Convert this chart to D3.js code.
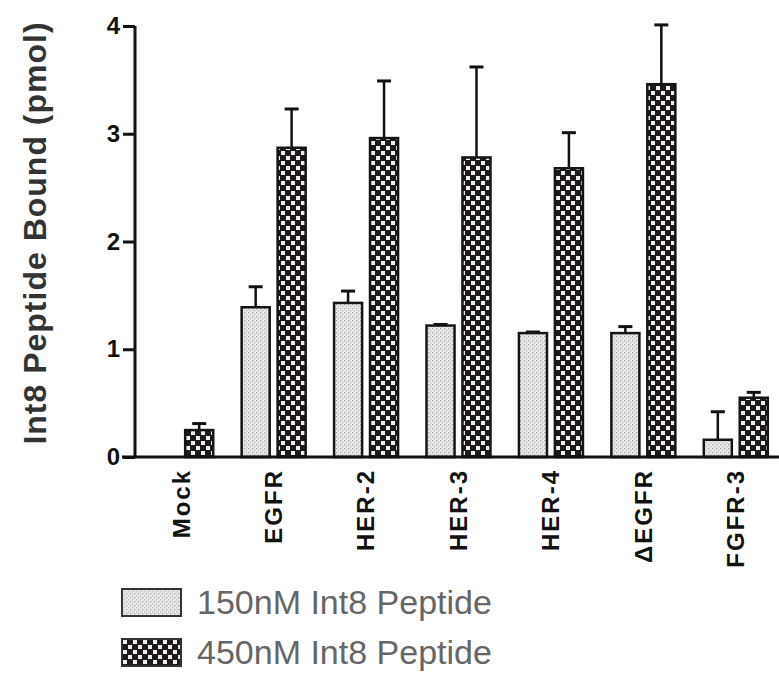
<!DOCTYPE html>
<html>
<head>
<meta charset="utf-8">
<script src="https://cdn.jsdelivr.net/npm/d3@7"></script>
<style>
  body { margin: 0; background: #fff; }
  svg { display: block; }
</style>
</head>
<body>
<div class="chart"></div>
<script>
// data
const categories = ['Mock', 'EGFR', 'HER-2', 'HER-3', 'HER-4', '\u0394EGFR', 'FGFR-3'];
const series = ['150nM Int8 Peptide', '450nM Int8 Peptide'];
const low = [0, 1.39, 1.43, 1.22, 1.15, 1.15, 0.16];
const lowErr = [0, 0.19, 0.11, 0.01, 0.01, 0.06, 0.26];
const high = [0.25, 2.87, 2.96, 2.78, 2.68, 3.46, 0.55];
const highErr = [0.06, 0.36, 0.53, 0.84, 0.33, 0.55, 0.05];
const yTicks = [0, 1, 2, 3, 4];

function displayChart() {
  const w = 779;
  const h = 676;

  const svg = d3.select('.chart')
    .append('svg')
    .attr('width', w)
    .attr('height', h);

  // fill patterns
  const defs = svg.append('defs');
  const stipple = defs.append('pattern')
    .attr('id', 'stipple')
    .attr('patternUnits', 'userSpaceOnUse')
    .attr('width', 4)
    .attr('height', 4);
  stipple.append('rect').attr('width', 4).attr('height', 4).attr('fill', '#e8e8e8');
  stipple.append('rect').attr('x', 0).attr('y', 0).attr('width', 1.3).attr('height', 1.3).attr('fill', '#a8a8a8');
  stipple.append('rect').attr('x', 2).attr('y', 2).attr('width', 1.3).attr('height', 1.3).attr('fill', '#bdbdbd');

  const checker = defs.append('pattern')
    .attr('id', 'checker')
    .attr('patternUnits', 'userSpaceOnUse')
    .attr('width', 10)
    .attr('height', 10);
  checker.append('rect').attr('width', 10).attr('height', 10).attr('fill', '#1e1a1c');
  checker.append('rect').attr('x', 1).attr('y', 1).attr('width', 4).attr('height', 4).attr('fill', '#eee');
  checker.append('rect').attr('x', 6).attr('y', 6).attr('width', 4).attr('height', 4).attr('fill', '#eee');

  const fills = ['url(#stipple)', 'url(#checker)'];

  const xScale = d3.scaleBand()
    .domain(categories)
    .range([135, 782]);
  const xInner = d3.scaleBand()
    .domain(series)
    .range([xScale.bandwidth() / 2 - 32, xScale.bandwidth() / 2 + 32])
    .paddingInner(0.22);
  const yScale = d3.scaleLinear()
    .domain([0, 4])
    .range([457, 26]);

  const rows = [];
  categories.forEach((c, i) => {
    rows.push({ cat: c, s: series[0], v: low[i], e: lowErr[i] });
    rows.push({ cat: c, s: series[1], v: high[i], e: highErr[i] });
  });
  const bars = rows.filter(d => d.v > 0);

  // error bars (upper only)
  const err = svg.append('g').attr('class', 'errors');
  err.selectAll('line.stem')
    .data(bars.filter(d => d.e > 0))
    .enter()
    .append('line')
    .attr('x1', d => xScale(d.cat) + xInner(d.s) + xInner.bandwidth() / 2)
    .attr('x2', d => xScale(d.cat) + xInner(d.s) + xInner.bandwidth() / 2)
    .attr('y1', d => yScale(d.v))
    .attr('y2', d => yScale(d.v + d.e))
    .attr('stroke', '#111')
    .attr('stroke-width', 2.5);
  err.selectAll('line.cap')
    .data(bars.filter(d => d.e > 0))
    .enter()
    .append('line')
    .attr('x1', d => xScale(d.cat) + xInner(d.s) + xInner.bandwidth() / 2 - 7)
    .attr('x2', d => xScale(d.cat) + xInner(d.s) + xInner.bandwidth() / 2 + 7)
    .attr('y1', d => yScale(d.v + d.e))
    .attr('y2', d => yScale(d.v + d.e))
    .attr('stroke', '#111')
    .attr('stroke-width', 3);

  svg.append('g')
    .selectAll('rect')
    .data(bars)
    .enter()
    .append('rect')
    .attr('class', 'bar')
    .attr('x', d => xScale(d.cat) + xInner(d.s))
    .attr('y', d => yScale(d.v))
    .attr('width', xInner.bandwidth())
    .attr('height', d => yScale(0) - yScale(d.v))
    .attr('fill', d => fills[series.indexOf(d.s)])
    .attr('stroke', '#151515')
    .attr('stroke-width', 2.5);

  // y axis
  const yAxis = svg.append('g')
    .attr('class', 'y-axis')
    .attr('transform', 'translate(135, 0)')
    .call(d3.axisLeft(yScale).tickValues(yTicks).tickFormat(d3.format('d')).tickSize(12).tickPadding(3));
  yAxis.select('.domain').attr('stroke', '#111').attr('stroke-width', 3)
    .attr('d', `M0,${yScale(4)}V${yScale(0)}`);
  yAxis.selectAll('.tick line').attr('stroke', '#111').attr('stroke-width', 3);
  yAxis.selectAll('.tick text')
    .attr('fill', '#111')
    .style('font-family', 'Liberation Sans, Arial, sans-serif')
    .style('font-weight', 'bold')
    .style('font-size', '24px');

  // x axis
  const xAxis = svg.append('g')
    .attr('class', 'x-axis')
    .attr('transform', `translate(0, ${yScale(0)})`)
    .call(d3.axisBottom(xScale).tickSize(0).tickPadding(0));
  xAxis.select('.domain').attr('stroke', '#111').attr('stroke-width', 3)
    .attr('d', 'M122,0H779');
  xAxis.selectAll('.tick text')
    .attr('transform', 'rotate(-90)')
    .attr('x', -12)
    .attr('y', 0)
    .attr('dy', '0.35em')
    .attr('text-anchor', 'end')
    .attr('fill', '#111')
    .style('font-family', 'Liberation Sans, Arial, sans-serif')
    .style('font-weight', 'bold')
    .style('font-size', '24px')
    .style('letter-spacing', '2px');

  svg.append('text')
    .attr('class', 'y-label')
    .attr('transform', 'rotate(-90)')
    .attr('x', -233)
    .attr('y', 46)
    .attr('text-anchor', 'middle')
    .attr('fill', '#333')
    .style('font-family', 'Liberation Sans, Arial, sans-serif')
    .style('font-weight', 'bold')
    .style('font-size', '32px')
    .style('letter-spacing', '1px')
    .text('Int8 Peptide Bound (pmol)');

  // legend
  const legend = svg.append('g')
    .attr('class', 'legend')
    .selectAll('g')
    .data(series)
    .enter()
    .append('g')
    .attr('transform', (d, i) => `translate(122, ${589 + i * 50})`);
  legend.append('rect')
    .attr('width', 59)
    .attr('height', 27)
    .attr('fill', (d, i) => fills[i])
    .attr('stroke', '#333')
    .attr('stroke-width', 2);
  legend.append('text')
    .attr('x', 75)
    .attr('y', 25)
    .attr('fill', '#666')
    .style('font-family', 'Liberation Sans, Arial, sans-serif')
    .style('font-size', '34px')
    .text(d => d);
}

displayChart();
</script>
</body>
</html>
